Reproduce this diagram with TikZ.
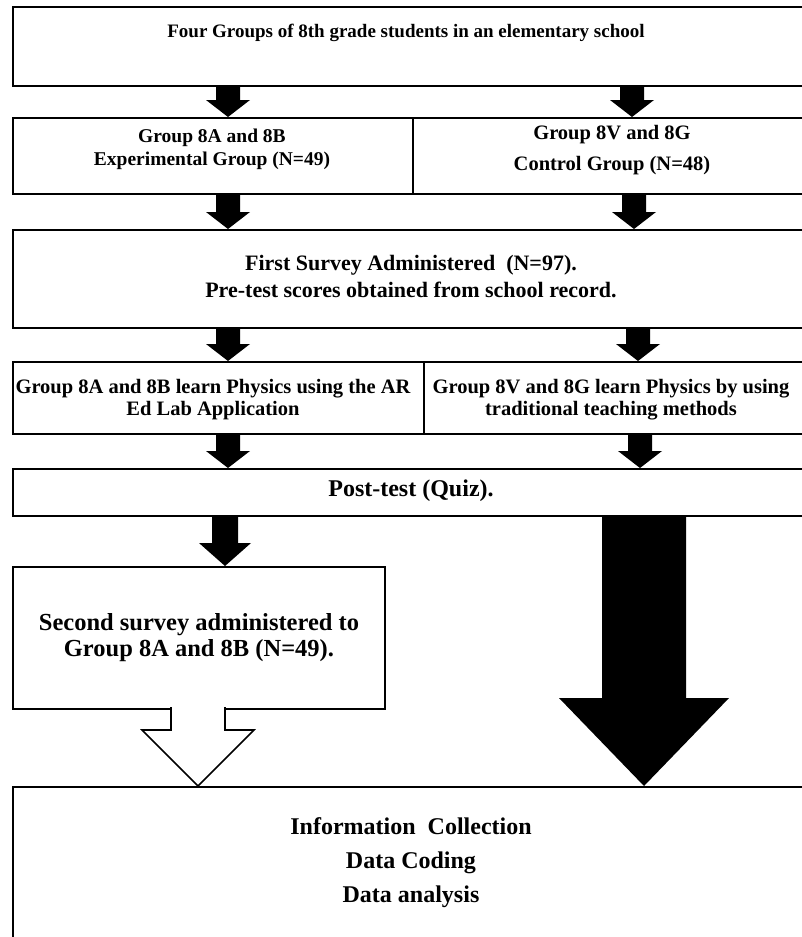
\documentclass[tikz,border=0pt]{standalone}
\usepackage{fontspec}
\setmainfont{Liberation Serif}
\begin{document}
\begin{tikzpicture}[x=1pt,y=-1pt,
  boxline/.style={draw=black,line width=2pt,fill=white,inner sep=0pt,anchor=north west},
  hollow/.style={fill=white,draw=black,line width=1.6pt,line join=miter},
  txt/.style={align=center,inner sep=0pt}]
\useasboundingbox (0,0) rectangle (802,937);
% small block arrow: x, ytop, ybottom
\newcommand{\smallfat}[3]{\fill (#1-12,#2) -- (#1+12,#2) -- (#1+12,#3-17) -- (#1+22,#3-17) -- (#1,#3) -- (#1-22,#3-17) -- (#1-12,#3-17) -- cycle;}
% boxes
\node[boxline,minimum width=798,minimum height=79] (b1) at (12,6) {};
\node[boxline,minimum width=400,minimum height=76] (b2l) at (12,117) {};
\node[boxline,minimum width=398,minimum height=76] (b2r) at (412,117) {};
\node[boxline,minimum width=798,minimum height=98] (b3) at (12,229) {};
\node[boxline,minimum width=411,minimum height=72] (b4l) at (12,361) {};
\node[boxline,minimum width=387,minimum height=72] (b4r) at (423,361) {};
\node[boxline,minimum width=798,minimum height=47] (b5) at (12,468) {};
\node[boxline,minimum width=372,minimum height=142] (b6) at (12,566) {};
\node[boxline,minimum width=798,minimum height=180] (b7) at (12,786) {};
% texts
\node[txt,font=\bfseries\fontsize{19}{23}\selectfont] (t1) at (406,33) {Four Groups of 8th grade students in an elementary school};
\node[txt,font=\bfseries\fontsize{19.5}{23}\selectfont] (t2l) at (212,149) {Group 8A and 8B\\Experimental Group (N=49)};
\node[txt,font=\bfseries\fontsize{20.5}{31}\selectfont] (t2r) at (612,150) {Group 8V and 8G\\Control Group (N=48)};
\node[txt,font=\bfseries\fontsize{22}{27}\selectfont] (t3) at (411,277) {First Survey Administered\ \ (N=97).\\Pre-test scores obtained from school record.};
\node[txt,font=\bfseries\fontsize{20.5}{22}\selectfont] (t4l) at (213,400) {Group 8A and 8B learn Physics using the AR\\Ed Lab Application};
\node[txt,font=\bfseries\fontsize{20.5}{22}\selectfont] (t4r) at (611,400) {Group 8V and 8G learn Physics by using\\traditional teaching methods};
\node[txt,font=\bfseries\fontsize{24}{28}\selectfont] (t5) at (411,491) {Post-test (Quiz).};
\node[txt,font=\bfseries\fontsize{24.5}{26}\selectfont] (t6) at (199,638) {Second survey administered to\\Group 8A and 8B (N=49).};
\node[txt,font=\bfseries\fontsize{24}{34}\selectfont] (t7) at (411,863) {Information\ \ Collection\\Data Coding\\Data analysis};
% small arrows
\smallfat{228}{85}{117}
\smallfat{632}{85}{117}
\smallfat{228}{193}{229}
\smallfat{634}{193}{229}
\smallfat{228}{327}{361}
\smallfat{638}{327}{361}
\smallfat{228}{433}{468}
\smallfat{640}{433}{468}
% arrow Post-test -> second survey
\fill (212,515) -- (238,515) -- (238,543) -- (251,543) -- (225,566) -- (199,543) -- (212,543) -- cycle;
% big black arrow Post-test -> bottom box
\fill (602,515) -- (686,515) -- (686,698) -- (729,698) -- (644,786) -- (559,698) -- (602,698) -- cycle;
% hollow arrow from second survey box
\fill[white] (171,705) rectangle (225,731);
\draw[hollow] (171,707) -- (171,730) -- (142,730) -- (198,786) -- (254,730) -- (225,730) -- (225,707);
\end{tikzpicture}
\end{document}
